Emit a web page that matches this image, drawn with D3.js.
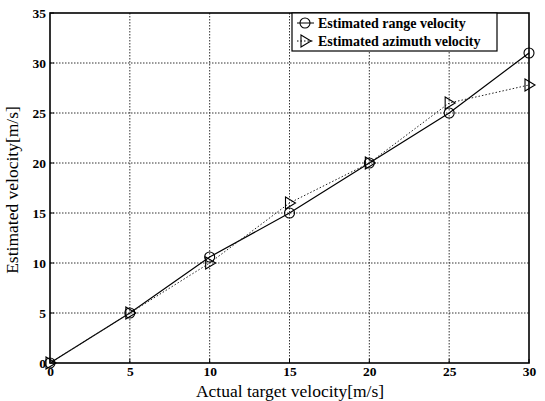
<!DOCTYPE html>
<html><head><meta charset="utf-8">
<script src="https://cdn.jsdelivr.net/npm/d3@7"></script>
<style>body{margin:0;background:#fff}svg{display:block}text{font-family:"Liberation Serif","Times New Roman",serif;fill:#000}</style>
</head><body><svg id="c" width="545" height="401"></svg>
<script>
const actualVelocity = [0, 5, 10, 15, 20, 25, 30];
const rangeVelocity = [0, 5, 10.6, 15, 20, 25, 31];
const azimuthVelocity = [0, 5, 10, 16, 20, 26, 27.8];
const xTicks = [0, 5, 10, 15, 20, 25, 30];
const yTicks = [0, 5, 10, 15, 20, 25, 30, 35];
const seriesNames = ["Estimated range velocity", "Estimated azimuth velocity"];

const svg = d3.select("#c");
const L = 50, R = 529, T = 13, B = 363;
const x = d3.scaleLinear().domain([0, 30]).range([L, R]);
const y = d3.scaleLinear().domain([0, 35]).range([B, T]);

// grid
const g = svg.append("g");
g.selectAll(".gx").data(xTicks.slice(1, -1)).join("line")
  .attr("x1", d => x(d)).attr("x2", d => x(d)).attr("y1", T).attr("y2", B)
  .attr("stroke", "#333").attr("stroke-width", 1).attr("stroke-dasharray", "1.5,1.5");
g.selectAll(".gy").data(yTicks.slice(1, -1)).join("line")
  .attr("y1", d => y(d)).attr("y2", d => y(d)).attr("x1", L).attr("x2", R)
  .attr("stroke", "#333").attr("stroke-width", 1).attr("stroke-dasharray", "1.5,1.5");

// axes
const xa = svg.append("g").attr("transform", `translate(0,${B})`)
  .call(d3.axisBottom(x).tickValues(xTicks).tickSize(0).tickPadding(3));
const ya = svg.append("g").attr("transform", `translate(${L},0)`)
  .call(d3.axisLeft(y).tickValues(yTicks).tickSize(0).tickPadding(4));
[xa, ya].forEach(a => {
  a.select(".domain").remove();
  a.selectAll("text").attr("font-size", 13.5).attr("font-weight", "bold")
    .attr("font-family", "Liberation Serif");
});
// ticks inside
svg.append("g").selectAll("line").data(xTicks).join("line")
  .attr("x1", d => x(d)).attr("x2", d => x(d)).attr("y1", B).attr("y2", B - 4).attr("stroke", "#000");
svg.append("g").selectAll("line").data(yTicks).join("line")
  .attr("y1", d => y(d)).attr("y2", d => y(d)).attr("x1", L).attr("x2", L + 4).attr("stroke", "#000");

svg.append("rect").attr("x", L).attr("y", T).attr("width", R - L).attr("height", B - T)
  .attr("fill", "none").attr("stroke", "#000").attr("stroke-width", 1.6);

// lines
const line1 = d3.line().x((d, i) => x(actualVelocity[i])).y(d => y(d));
svg.append("path").datum(rangeVelocity).attr("d", line1).attr("fill", "none")
  .attr("stroke", "#000").attr("stroke-width", 1.2);
svg.append("path").datum(azimuthVelocity).attr("d", line1).attr("fill", "none")
  .attr("stroke", "#222").attr("stroke-width", 1).attr("stroke-dasharray", "1.5,2");

function circle(sel, cx, cy) {
  sel.append("circle").attr("cx", cx).attr("cy", cy).attr("r", 5)
    .attr("fill", "none").attr("stroke", "#000").attr("stroke-width", 1.1);
}
function tri(sel, cx, cy) {
  sel.append("path").attr("d", `M${cx - 4},${cy - 6}L${cx + 6},${cy}L${cx - 4},${cy + 6}Z`)
    .attr("fill", "none").attr("stroke", "#000").attr("stroke-width", 1.1);
}
const mk = svg.append("g");
rangeVelocity.forEach((v, i) => circle(mk, x(actualVelocity[i]), y(v)));
azimuthVelocity.forEach((v, i) => tri(mk, x(actualVelocity[i]), y(v)));

// legend
const lg = svg.append("g");
lg.append("rect").attr("x", 292).attr("y", T).attr("width", 205).attr("height", 38)
  .attr("fill", "#fff").attr("stroke", "#000").attr("stroke-width", 1.2);
lg.append("line").attr("x1", 297).attr("x2", 314).attr("y1", 23).attr("y2", 23).attr("stroke", "#000");
circle(lg, 305, 23);
lg.append("line").attr("x1", 297).attr("x2", 314).attr("y1", 41).attr("y2", 41)
  .attr("stroke", "#000").attr("stroke-dasharray", "1.5,2");
tri(lg, 305, 41);
seriesNames.forEach((s, i) => {
  lg.append("text").attr("x", 318).attr("y", 28 + i * 18).attr("font-size", 14)
    .attr("font-weight", "bold").text(s);
});

// titles
svg.append("text").attr("x", 290).attr("y", 397).attr("text-anchor", "middle")
  .attr("font-size", 17.5).text("Actual target velocity[m/s]");
svg.append("text").attr("transform", "translate(18,190) rotate(-90)").attr("text-anchor", "middle")
  .attr("font-size", 17.5).text("Estimated velocity[m/s]");
</script></body></html>
